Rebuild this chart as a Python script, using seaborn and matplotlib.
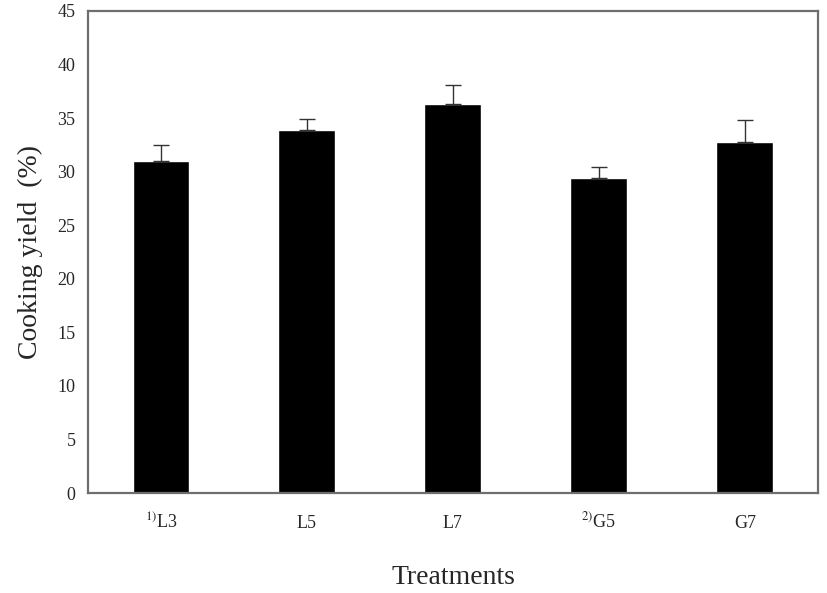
import numpy as np
import pandas as pd
import matplotlib
matplotlib.use("Agg")
import matplotlib.pyplot as plt
import seaborn as sns

# values
treatments = [r"$^{1)}$L3", "L5", "L7", r"$^{2)}$G5", "G7"]
yield_mean = [31.0, 33.9, 36.3, 29.4, 32.8]
yield_err = [1.5, 1.0, 1.8, 1.0, 2.0]
y_ticks = [0, 5, 10, 15, 20, 25, 30, 35, 40, 45]

sns.set_style("white")
plt.rcParams["font.family"] = ["Liberation Serif", "DejaVu Serif"]
plt.rcParams["mathtext.fontset"] = "stix"

df = pd.DataFrame({"treatment": treatments, "yield": yield_mean})

fig = plt.figure(figsize=(8.27, 5.93), dpi=100)
ax = fig.add_axes([0.1064, 0.1686, 0.8826, 0.8129])

sns.barplot(data=df, x="treatment", y="yield", color="black",
            width=0.39, errorbar=None, saturation=1, ax=ax)

# upper error bars only
pos = np.arange(len(treatments))
ax.errorbar(pos, yield_mean, yerr=[np.zeros(len(yield_err)), yield_err],
            fmt="none", ecolor="#333333", elinewidth=1.0, capsize=6, capthick=1.0)

ax.set_ylim(0, 45)
ax.set_yticks(y_ticks)
ax.set_xlim(-0.5, len(treatments) - 0.5)

for s in ax.spines.values():
    s.set_color("#6e6e6e")
    s.set_linewidth(1.6)

ax.tick_params(axis="both", length=0, labelsize=13)
ax.tick_params(axis="y", pad=9)
ax.tick_params(axis="x", pad=25)
# keep the superscripted labels on the same baseline as the others
for lab in ax.get_xticklabels():
    lab.set_va("baseline")

ax.set_ylabel("Cooking yield  (%)", fontsize=20, va="center")
ax.yaxis.set_label_coords(-0.079, 0.5)
ax.set_xlabel("Treatments", fontsize=20, va="center")
ax.xaxis.set_label_coords(0.5, -0.176)

fig.savefig("out.png", dpi=100)
